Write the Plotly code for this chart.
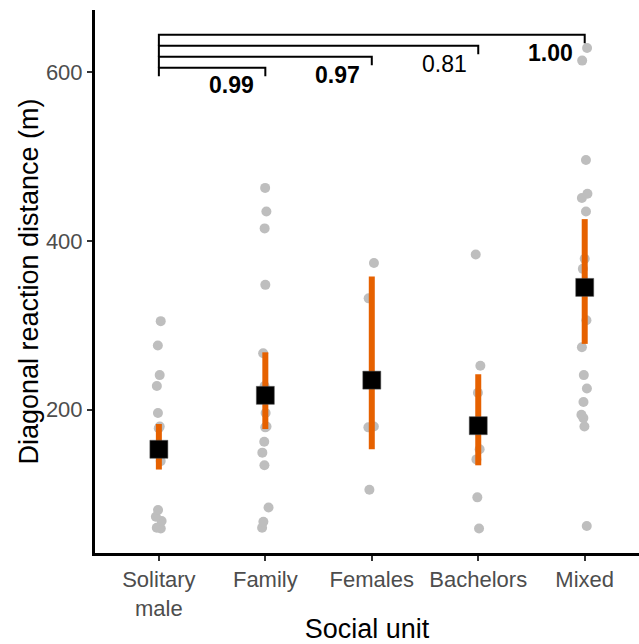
import plotly.graph_objects as go

categories = ["Solitary male", "Family", "Females", "Bachelors", "Mixed"]
tick_text = ["Solitary<br>male", "Family", "Females", "Bachelors", "Mixed"]

solitary = [305, 276, 241, 228, 196, 180, 178, 139, 81, 73, 68, 60, 59]
family = [463, 435, 415, 348, 267, 228, 196, 180, 179, 162, 149, 134, 84, 67, 60]
females = [374, 332, 180, 179, 105]
bachelors = [384, 252, 220, 153, 141, 96, 59]
mixed = [629, 614, 496, 456, 451, 435, 379, 367, 306, 274, 241, 225, 209, 194, 190, 180, 62]

means = [153, 217, 235, 181, 345]
ci_low = [129, 177, 153, 134, 278]
ci_high = [183, 268, 358, 242, 426]

bracket_end = [1, 2, 3, 4]
bracket_y = [605.5, 618.5, 631.5, 644.5]
p_labels = ["0.99", "0.97", "0.81", "1.00"]
p_bold = [True, True, False, True]

groups = [solitary, family, females, bachelors, mixed]

FONT = "Liberation Sans, Arial, sans-serif"
ORANGE = "#E66100"
GREY = "#BEBEBE"

fig = go.Figure()

xs, ys = [], []
for cat, vals in zip(categories, groups):
    xs += [cat] * len(vals)
    ys += vals

fig.add_trace(go.Box(
    x=xs, y=ys, boxpoints="all", jitter=0.14, pointpos=0,
    fillcolor="rgba(0,0,0,0)", line=dict(color="rgba(0,0,0,0)", width=0),
    marker=dict(color=GREY, size=10, line=dict(width=0)),
    showlegend=False, hoverinfo="y",
))

fig.add_trace(go.Scatter(
    x=categories, y=means, mode="markers",
    marker=dict(symbol="square", size=18, color="black", line=dict(color="#555555", width=0.5)),
    error_y=dict(type="data", symmetric=False,
                 array=[h - m for h, m in zip(ci_high, means)],
                 arrayminus=[m - l for m, l in zip(means, ci_low)],
                 color=ORANGE, thickness=6, width=0),
    showlegend=False,
))

tip = 10
step = bracket_y[1] - bracket_y[0]
for end, yb, lab, b in zip(bracket_end, bracket_y, p_labels, p_bold):
    left_bottom = yb - tip if yb == min(bracket_y) else yb - step
    fig.add_shape(type="path",
                  path=f"M 0,{left_bottom} L 0,{yb} L {end},{yb} L {end},{yb - tip}",
                  xref="x", yref="y", line=dict(color="black", width=2))
    fig.add_annotation(x=end - 0.32, y=yb - 21, xref="x", yref="y",
                       text=f"<b>{lab}</b>" if b else lab, showarrow=False,
                       font=dict(family=FONT, size=23, color="black"))

fig.update_layout(
    width=639, height=644,
    margin=dict(l=95, r=0, t=10, b=91),
    plot_bgcolor="white", paper_bgcolor="white",
    font=dict(family=FONT),
)
fig.update_xaxes(
    type="category", categoryorder="array", categoryarray=categories,
    range=[-0.6, 4.51], tickvals=categories, ticktext=tick_text,
    showline=True, linecolor="black", linewidth=3, mirror=False,
    ticks="outside", ticklen=5, tickwidth=1.5, tickcolor="#333333",
    tickfont=dict(family=FONT, size=22, color="#4D4D4D"),
    title=dict(text="Social unit", font=dict(family=FONT, size=27, color="black"), standoff=6),
    showgrid=False, zeroline=False, automargin=False,
)
fig.update_yaxes(
    range=[30, 674], tickvals=[200, 400, 600],
    showline=True, linecolor="black", linewidth=3,
    ticks="outside", ticklen=5, tickwidth=1.5, tickcolor="#333333",
    tickfont=dict(family=FONT, size=22, color="#4D4D4D"),
    title=dict(text="Diagonal reaction distance (m)", font=dict(family=FONT, size=27, color="black"), standoff=0),
    showgrid=False, zeroline=False, automargin=False,
)

fig.write_html("out.html", config={"displayModeBar": False},
               post_script="document.body.style.margin='0';")
